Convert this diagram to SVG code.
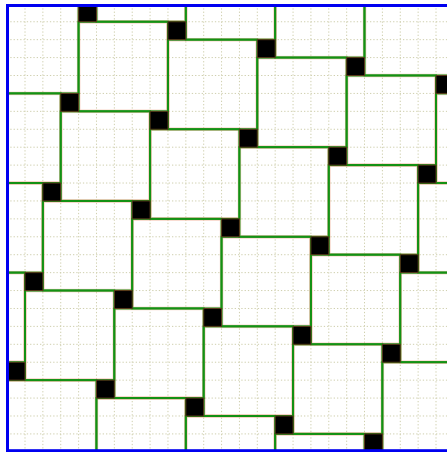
<svg xmlns="http://www.w3.org/2000/svg" width="447" height="452" viewBox="0 0 447 452">
<style>
.grid{fill:none;stroke:#cfcfae;stroke-width:1;stroke-dasharray:1.3 2}
.big rect.s{fill:none;stroke:#f1b39c;stroke-width:0.8;opacity:0.8}
.big rect.g{fill:none;stroke:#139113;stroke-width:2}
.small rect{fill:#000;stroke:#5a3a1a;stroke-width:1}
.frame{fill:none;stroke:#0000f0;stroke-width:3}
</style>
<defs>
<clipPath id="clip"><rect x="7.5" y="5.5" width="450" height="445.2"/></clipPath>
</defs>
<rect width="447" height="452" fill="#fff"/>
<g clip-path="url(#clip)">
<path class="grid" d="M25 5V451M42.87 5V451M60.74 5V451M78.61 5V451M96.48 5V451M114.35 5V451M132.22 5V451M150.09 5V451M167.96 5V451M185.83 5V451M203.7 5V451M221.57 5V451M239.44 5V451M257.31 5V451M275.18 5V451M293.05 5V451M310.92 5V451M328.79 5V451M346.66 5V451M364.53 5V451M382.4 5V451M400.27 5V451M418.14 5V451M436.01 5V451M7 21.75H447M7 39.67H447M7 57.59H447M7 75.51H447M7 93.43H447M7 111.35H447M7 129.27H447M7 147.19H447M7 165.11H447M7 183.03H447M7 200.95H447M7 218.87H447M7 236.79H447M7 254.71H447M7 272.63H447M7 290.55H447M7 308.47H447M7 326.39H447M7 344.31H447M7 362.23H447M7 380.15H447M7 398.07H447M7 415.99H447M7 433.91H447"/>
<g id="tiles-big">
<g id="big-5-m4" class="big"><rect class="s" x="97.78" y="-66.55" width="86.75" height="87"/><rect class="g" x="96.48" y="-67.85" width="89.35" height="89.6"/></g>
<g id="big-10-m3" class="big"><rect class="s" x="187.13" y="-48.63" width="86.75" height="87"/><rect class="g" x="185.83" y="-49.93" width="89.35" height="89.6"/></g>
<g id="big-15-m2" class="big"><rect class="s" x="276.48" y="-30.71" width="86.75" height="87"/><rect class="g" x="275.18" y="-32.01" width="89.35" height="89.6"/></g>
<g id="big-20-m1" class="big"><rect class="s" x="365.83" y="-12.79" width="86.75" height="87"/><rect class="g" x="364.53" y="-14.09" width="89.35" height="89.6"/></g>
<g id="big-m1-0" class="big"><rect class="s" x="-9.44" y="5.13" width="86.75" height="87"/><rect class="g" x="-10.74" y="3.83" width="89.35" height="89.6"/></g>
<g id="big-4-1" class="big"><rect class="s" x="79.91" y="23.05" width="86.75" height="87"/><rect class="g" x="78.61" y="21.75" width="89.35" height="89.6"/></g>
<g id="big-9-2" class="big"><rect class="s" x="169.26" y="40.97" width="86.75" height="87"/><rect class="g" x="167.96" y="39.67" width="89.35" height="89.6"/></g>
<g id="big-14-3" class="big"><rect class="s" x="258.61" y="58.89" width="86.75" height="87"/><rect class="g" x="257.31" y="57.59" width="89.35" height="89.6"/></g>
<g id="big-19-4" class="big"><rect class="s" x="347.96" y="76.81" width="86.75" height="87"/><rect class="g" x="346.66" y="75.51" width="89.35" height="89.6"/></g>
<g id="big-24-5" class="big"><rect class="s" x="437.31" y="94.73" width="86.75" height="87"/><rect class="g" x="436.01" y="93.43" width="89.35" height="89.6"/></g>
<g id="big-m2-5" class="big"><rect class="s" x="-27.31" y="94.73" width="86.75" height="87"/><rect class="g" x="-28.61" y="93.43" width="89.35" height="89.6"/></g>
<g id="big-3-6" class="big"><rect class="s" x="62.04" y="112.65" width="86.75" height="87"/><rect class="g" x="60.74" y="111.35" width="89.35" height="89.6"/></g>
<g id="big-8-7" class="big"><rect class="s" x="151.39" y="130.57" width="86.75" height="87"/><rect class="g" x="150.09" y="129.27" width="89.35" height="89.6"/></g>
<g id="big-13-8" class="big"><rect class="s" x="240.74" y="148.49" width="86.75" height="87"/><rect class="g" x="239.44" y="147.19" width="89.35" height="89.6"/></g>
<g id="big-18-9" class="big"><rect class="s" x="330.09" y="166.41" width="86.75" height="87"/><rect class="g" x="328.79" y="165.11" width="89.35" height="89.6"/></g>
<g id="big-23-10" class="big"><rect class="s" x="419.44" y="184.33" width="86.75" height="87"/><rect class="g" x="418.14" y="183.03" width="89.35" height="89.6"/></g>
<g id="big-m3-10" class="big"><rect class="s" x="-45.18" y="184.33" width="86.75" height="87"/><rect class="g" x="-46.48" y="183.03" width="89.35" height="89.6"/></g>
<g id="big-2-11" class="big"><rect class="s" x="44.17" y="202.25" width="86.75" height="87"/><rect class="g" x="42.87" y="200.95" width="89.35" height="89.6"/></g>
<g id="big-7-12" class="big"><rect class="s" x="133.52" y="220.17" width="86.75" height="87"/><rect class="g" x="132.22" y="218.87" width="89.35" height="89.6"/></g>
<g id="big-12-13" class="big"><rect class="s" x="222.87" y="238.09" width="86.75" height="87"/><rect class="g" x="221.57" y="236.79" width="89.35" height="89.6"/></g>
<g id="big-17-14" class="big"><rect class="s" x="312.22" y="256.01" width="86.75" height="87"/><rect class="g" x="310.92" y="254.71" width="89.35" height="89.6"/></g>
<g id="big-22-15" class="big"><rect class="s" x="401.57" y="273.93" width="86.75" height="87"/><rect class="g" x="400.27" y="272.63" width="89.35" height="89.6"/></g>
<g id="big-m4-15" class="big"><rect class="s" x="-63.05" y="273.93" width="86.75" height="87"/><rect class="g" x="-64.35" y="272.63" width="89.35" height="89.6"/></g>
<g id="big-1-16" class="big"><rect class="s" x="26.3" y="291.85" width="86.75" height="87"/><rect class="g" x="25" y="290.55" width="89.35" height="89.6"/></g>
<g id="big-6-17" class="big"><rect class="s" x="115.65" y="309.77" width="86.75" height="87"/><rect class="g" x="114.35" y="308.47" width="89.35" height="89.6"/></g>
<g id="big-11-18" class="big"><rect class="s" x="205" y="327.69" width="86.75" height="87"/><rect class="g" x="203.7" y="326.39" width="89.35" height="89.6"/></g>
<g id="big-16-19" class="big"><rect class="s" x="294.35" y="345.61" width="86.75" height="87"/><rect class="g" x="293.05" y="344.31" width="89.35" height="89.6"/></g>
<g id="big-21-20" class="big"><rect class="s" x="383.7" y="363.53" width="86.75" height="87"/><rect class="g" x="382.4" y="362.23" width="89.35" height="89.6"/></g>
<g id="big-0-21" class="big"><rect class="s" x="8.43" y="381.45" width="86.75" height="87"/><rect class="g" x="7.13" y="380.15" width="89.35" height="89.6"/></g>
<g id="big-5-22" class="big"><rect class="s" x="97.78" y="399.37" width="86.75" height="87"/><rect class="g" x="96.48" y="398.07" width="89.35" height="89.6"/></g>
<g id="big-10-23" class="big"><rect class="s" x="187.13" y="417.29" width="86.75" height="87"/><rect class="g" x="185.83" y="415.99" width="89.35" height="89.6"/></g>
<g id="big-15-24" class="big"><rect class="s" x="276.48" y="435.21" width="86.75" height="87"/><rect class="g" x="275.18" y="433.91" width="89.35" height="89.6"/></g>
</g>
<g id="tiles-small">
<g id="small-4-0" class="small"><rect x="78.61" y="3.83" width="17.87" height="17.92"/></g>
<g id="small-9-1" class="small"><rect x="167.96" y="21.75" width="17.87" height="17.92"/></g>
<g id="small-14-2" class="small"><rect x="257.31" y="39.67" width="17.87" height="17.92"/></g>
<g id="small-19-3" class="small"><rect x="346.66" y="57.59" width="17.87" height="17.92"/></g>
<g id="small-24-4" class="small"><rect x="436.01" y="75.51" width="17.87" height="17.92"/></g>
<g id="small-3-5" class="small"><rect x="60.74" y="93.43" width="17.87" height="17.92"/></g>
<g id="small-8-6" class="small"><rect x="150.09" y="111.35" width="17.87" height="17.92"/></g>
<g id="small-13-7" class="small"><rect x="239.44" y="129.27" width="17.87" height="17.92"/></g>
<g id="small-18-8" class="small"><rect x="328.79" y="147.19" width="17.87" height="17.92"/></g>
<g id="small-23-9" class="small"><rect x="418.14" y="165.11" width="17.87" height="17.92"/></g>
<g id="small-2-10" class="small"><rect x="42.87" y="183.03" width="17.87" height="17.92"/></g>
<g id="small-7-11" class="small"><rect x="132.22" y="200.95" width="17.87" height="17.92"/></g>
<g id="small-12-12" class="small"><rect x="221.57" y="218.87" width="17.87" height="17.92"/></g>
<g id="small-17-13" class="small"><rect x="310.92" y="236.79" width="17.87" height="17.92"/></g>
<g id="small-22-14" class="small"><rect x="400.27" y="254.71" width="17.87" height="17.92"/></g>
<g id="small-1-15" class="small"><rect x="25" y="272.63" width="17.87" height="17.92"/></g>
<g id="small-6-16" class="small"><rect x="114.35" y="290.55" width="17.87" height="17.92"/></g>
<g id="small-11-17" class="small"><rect x="203.7" y="308.47" width="17.87" height="17.92"/></g>
<g id="small-16-18" class="small"><rect x="293.05" y="326.39" width="17.87" height="17.92"/></g>
<g id="small-21-19" class="small"><rect x="382.4" y="344.31" width="17.87" height="17.92"/></g>
<g id="small-0-20" class="small"><rect x="7.13" y="362.23" width="17.87" height="17.92"/></g>
<g id="small-5-21" class="small"><rect x="96.48" y="380.15" width="17.87" height="17.92"/></g>
<g id="small-10-22" class="small"><rect x="185.83" y="398.07" width="17.87" height="17.92"/></g>
<g id="small-15-23" class="small"><rect x="275.18" y="415.99" width="17.87" height="17.92"/></g>
<g id="small-20-24" class="small"><rect x="364.53" y="433.91" width="17.87" height="17.92"/></g>
</g>
</g>
<rect class="frame" x="7.5" y="5.5" width="450" height="445.2"/>
</svg>
